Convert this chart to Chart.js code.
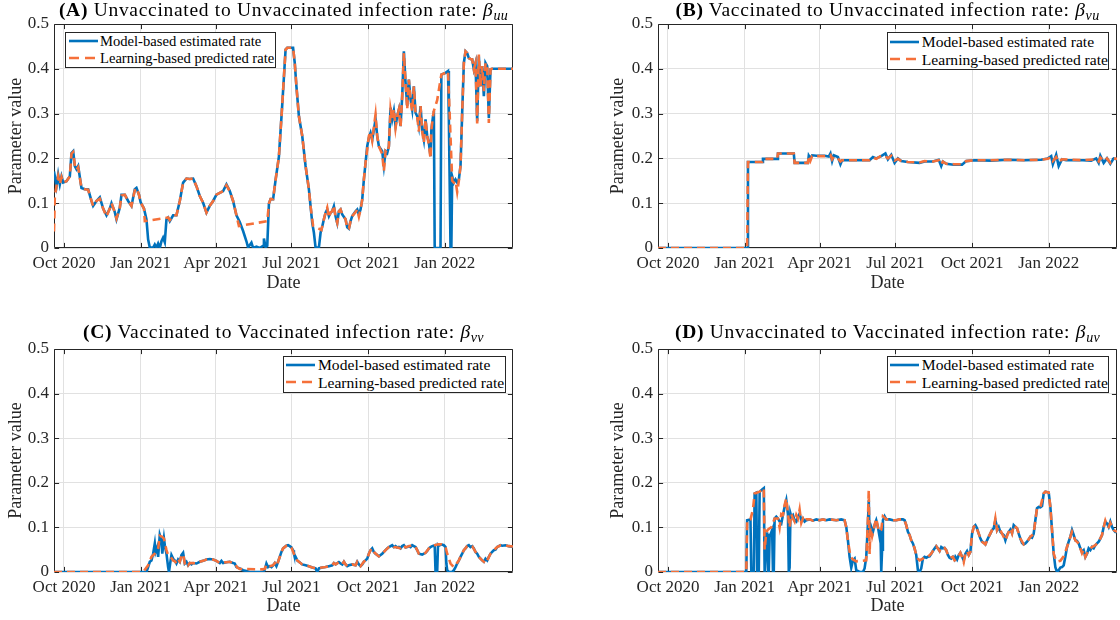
<!DOCTYPE html>
<html><head><meta charset="utf-8">
<script src="https://cdn.jsdelivr.net/npm/chart.js@4.4.1/dist/chart.umd.min.js"></script>
<style>
html,body{margin:0;padding:0;background:#fff;}
#wrap{position:relative;width:1120px;height:620px;overflow:hidden;background:#fff;font-family:"Liberation Serif","Times New Roman",serif;color:#000;}
canvas{position:absolute;}
.ttl{position:absolute;width:459px;text-align:center;font-size:19.5px;letter-spacing:0.7px;line-height:22px;white-space:nowrap;color:#000;}
.ttl sub{font-size:0.72em;vertical-align:-0.3em;line-height:0;letter-spacing:0.3px;}
.lg{position:absolute;background:#fff;border:1px solid #262626;box-sizing:border-box;color:#000;}
.lg .row{position:absolute;left:0;right:0;white-space:nowrap;}
.lg svg{position:absolute;}
.lg span{position:absolute;}
</style></head>
<body><div id="wrap"></div>
<script>
// ---------- data (day index 0 = 19 Sep 2020) ----------
const dayMax = 551;
const tickDays = [12, 104, 194, 285, 377, 469];
const tickLabels = ['Oct 2020','Jan 2021','Apr 2021','Jul 2021','Oct 2021','Jan 2022'];
const seriesLabels = ['Model-based estimated rate','Learning-based predicted rate'];
const panelTitles = [
  ['(A)','Unvaccinated to Unvaccinated infection rate:','uu'],
  ['(B)','Vaccinated to Unvaccinated infection rate:','vu'],
  ['(C)','Vaccinated to Vaccinated infection rate:','vv'],
  ['(D)','Unvaccinated to Vaccinated infection rate:','uv']
];

const modelA = [[0,0.171],[3,0.138],[5,0.164],[7,0.142],[9,0.16],[11,0.146],[15,0.149],[19,0.16],[21,0.212],[23,0.216],[25,0.183],[27,0.176],[29,0.183],[33,0.134],[37,0.131],[41,0.131],[45,0.105],[47,0.094],[51,0.105],[55,0.113],[59,0.088],[63,0.073],[67,0.088],[69,0.1],[73,0.08],[75,0.064],[79,0.09],[81,0.119],[85,0.119],[89,0.105],[93,0.094],[97,0.131],[99,0.134],[102,0.119],[104,0.102],[108,0.088],[111,0.064],[113,0.019],[115,0.001],[119,0.001],[121,0.008],[123,0.001],[125,0.01],[127,0],[129,0.015],[131,0.023],[133,0.013],[135,0.064],[137,0.068],[139,0.06],[143,0.073],[147,0.073],[151,0.105],[155,0.146],[159,0.155],[163,0.154],[167,0.155],[171,0.138],[175,0.116],[179,0.101],[183,0.079],[187,0.094],[191,0.105],[195,0.119],[199,0.123],[203,0.127],[207,0.142],[211,0.127],[215,0.105],[219,0.073],[223,0.058],[227,0.038],[231,0.015],[233,0.001],[237,0.012],[239,0],[243,0.003],[247,0],[251,0.005],[252,0.021],[254,0.002],[256,0.005],[258,0.099],[260,0.109],[263,0.109],[266,0.152],[270,0.204],[274,0.32],[278,0.443],[280,0.447],[287,0.447],[289,0.413],[291,0.361],[294,0.294],[298,0.25],[302,0.183],[306,0.131],[308,0.093],[310,0.056],[312,0.034],[314,0.001],[318,0.001],[320,0.034],[322,0.048],[324,0.064],[326,0.079],[328,0.086],[330,0.071],[332,0.079],[334,0.082],[336,0.093],[338,0.071],[340,0.056],[342,0.082],[344,0.086],[346,0.075],[350,0.064],[352,0.046],[354,0.043],[356,0.06],[358,0.071],[362,0.082],[364,0.086],[366,0.075],[368,0.086],[370,0.108],[372,0.153],[374,0.19],[376,0.227],[378,0.246],[380,0.257],[382,0.242],[384,0.264],[386,0.287],[388,0.25],[390,0.227],[394,0.216],[396,0.183],[398,0.216],[400,0.212],[402,0.227],[404,0.313],[406,0.287],[408,0.306],[410,0.272],[412,0.294],[414,0.309],[416,0.272],[418,0.339],[420,0.439],[422,0.369],[424,0.317],[426,0.376],[428,0.332],[430,0.309],[432,0.361],[434,0.302],[436,0.294],[438,0.272],[440,0.317],[442,0.264],[444,0.242],[446,0.287],[448,0.25],[450,0.235],[452,0.205],[453,0.264],[455,0.294],[456,0.306],[457,0],[464,0],[465,0.387],[470,0.391],[473,0.395],[474,0.287],[476,0],[477,0],[478,0.16],[480,0.146],[482,0.153],[484,0.146],[486,0.153],[488,0.183],[490,0.302],[492,0.413],[494,0.439],[496,0.435],[498,0.424],[500,0.422],[502,0.421],[504,0.399],[506,0.413],[508,0.283],[510,0.428],[512,0.361],[514,0.406],[516,0.339],[518,0.413],[520,0.406],[522,0.29],[524,0.399],[526,0.4],[551,0.4]];
const learnA = [[0,0.037],[1,0.115],[3,0.138],[5,0.16],[7,0.142],[9,0.158],[11,0.146],[15,0.149],[19,0.16],[21,0.21],[23,0.214],[25,0.185],[27,0.174],[29,0.18],[33,0.134],[37,0.131],[41,0.13],[45,0.105],[47,0.094],[51,0.105],[55,0.11],[59,0.088],[63,0.07],[67,0.088],[69,0.1],[73,0.08],[75,0.066],[79,0.09],[81,0.117],[85,0.119],[89,0.105],[93,0.094],[97,0.129],[99,0.134],[102,0.119],[104,0.102],[108,0.088],[109,0.06],[137,0.068],[139,0.062],[143,0.073],[147,0.073],[151,0.105],[155,0.146],[159,0.155],[163,0.154],[167,0.155],[171,0.138],[175,0.116],[179,0.101],[183,0.079],[187,0.094],[191,0.105],[195,0.119],[199,0.123],[203,0.127],[207,0.14],[211,0.127],[215,0.105],[219,0.073],[222,0.049],[256,0.06],[258,0.099],[260,0.109],[263,0.109],[266,0.152],[270,0.204],[274,0.32],[278,0.443],[280,0.447],[287,0.447],[289,0.413],[291,0.361],[294,0.294],[298,0.25],[302,0.183],[306,0.131],[308,0.093],[311,0.05],[321,0.04],[322,0.048],[324,0.064],[326,0.079],[328,0.09],[330,0.068],[332,0.079],[334,0.082],[336,0.095],[338,0.068],[340,0.056],[342,0.082],[344,0.086],[346,0.075],[350,0.064],[352,0.044],[354,0.043],[356,0.06],[358,0.071],[362,0.08],[364,0.086],[366,0.07],[368,0.086],[370,0.108],[372,0.153],[374,0.19],[376,0.22],[378,0.25],[380,0.26],[382,0.24],[384,0.27],[386,0.298],[388,0.25],[390,0.227],[394,0.21],[396,0.172],[398,0.216],[400,0.212],[402,0.227],[404,0.31],[406,0.287],[408,0.31],[410,0.268],[412,0.294],[414,0.309],[416,0.27],[418,0.339],[420,0.435],[422,0.369],[424,0.31],[426,0.376],[428,0.33],[430,0.305],[432,0.361],[434,0.3],[436,0.294],[438,0.26],[440,0.317],[442,0.26],[444,0.235],[446,0.287],[448,0.25],[450,0.23],[452,0.2],[453,0.264],[455,0.294],[456,0.306],[460,0.33],[465,0.387],[470,0.391],[473,0.395],[478,0.15],[480,0.146],[482,0.15],[484,0.125],[486,0.15],[488,0.183],[490,0.302],[492,0.413],[494,0.439],[496,0.435],[498,0.424],[500,0.422],[502,0.421],[504,0.399],[506,0.413],[508,0.278],[510,0.432],[512,0.361],[514,0.406],[516,0.35],[518,0.413],[520,0.406],[522,0.279],[524,0.399],[526,0.4],[551,0.4]];

const modelB = [[0,0],[107,0],[108,0.192],[125,0.192],[126,0.199],[143,0.199],[144,0.211],[163,0.211],[164,0.19],[180,0.19],[181,0.206],[183,0.2],[185,0.207],[190,0.206],[200,0.206],[205,0.204],[207,0.211],[209,0.194],[211,0.207],[216,0.203],[219,0.187],[221,0.196],[240,0.196],[254,0.196],[258,0.203],[262,0.2],[268,0.205],[273,0.211],[276,0.198],[280,0.208],[284,0.19],[288,0.2],[292,0.194],[300,0.192],[314,0.19],[320,0.193],[330,0.193],[337,0.197],[340,0.183],[342,0.193],[346,0.188],[355,0.186],[365,0.186],[370,0.194],[380,0.196],[400,0.195],[420,0.197],[440,0.196],[460,0.197],[468,0.2],[472,0.205],[474,0.187],[478,0.208],[481,0.183],[485,0.198],[490,0.196],[510,0.196],[520,0.195],[526,0.2],[529,0.19],[531,0.206],[535,0.19],[539,0.2],[543,0.188],[547,0.2],[551,0.198]];
const learnB = [[0,0],[107,0],[108,0.192],[125,0.192],[126,0.199],[143,0.199],[144,0.211],[163,0.211],[164,0.19],[180,0.19],[181,0.206],[183,0.195],[185,0.205],[200,0.205],[207,0.208],[209,0.198],[211,0.204],[216,0.2],[219,0.193],[221,0.196],[254,0.196],[258,0.202],[262,0.199],[268,0.206],[273,0.205],[276,0.2],[280,0.206],[284,0.195],[288,0.199],[292,0.194],[300,0.192],[314,0.191],[320,0.194],[330,0.193],[337,0.196],[340,0.186],[342,0.193],[346,0.188],[355,0.187],[365,0.187],[370,0.194],[380,0.196],[400,0.196],[420,0.197],[440,0.196],[460,0.197],[468,0.199],[472,0.203],[474,0.194],[478,0.203],[481,0.192],[485,0.198],[510,0.196],[526,0.198],[529,0.193],[531,0.202],[535,0.194],[539,0.2],[543,0.19],[547,0.2],[551,0.199]];

const modelC = [[0,0],[111,0],[113,0.011],[115,0.023],[117,0.026],[119,0.041],[121,0.064],[122,0.045],[124,0.056],[125,0.034],[127,0.083],[129,0.071],[130,0.041],[132,0.075],[133,0.06],[135,0.041],[137,0.011],[138,0],[140,0.026],[141,0.038],[143,0.03],[145,0.026],[147,0.019],[149,0.028],[151,0.023],[153,0.038],[155,0.043],[157,0.019],[159,0.023],[161,0.015],[163,0.02],[165,0.017],[167,0.02],[171,0.019],[175,0.023],[179,0.025],[183,0.028],[187,0.029],[191,0.028],[195,0.025],[199,0.02],[201,0.025],[203,0.02],[207,0.022],[211,0.023],[215,0.02],[217,0.019],[219,0.011],[223,0.008],[227,0.004],[231,0.002],[235,0],[251,0],[253,0.005],[255,0.019],[257,0.011],[259,0.013],[261,0.011],[263,0.015],[265,0.02],[267,0.013],[269,0.023],[271,0.034],[273,0.045],[275,0.053],[279,0.059],[281,0.06],[283,0.058],[285,0.055],[287,0.049],[288,0.041],[290,0.034],[292,0.026],[294,0.023],[298,0.017],[302,0.015],[306,0.013],[310,0.01],[314,0.008],[316,0],[318,0.008],[322,0.01],[326,0.011],[330,0.013],[334,0.015],[336,0.02],[338,0.017],[342,0.022],[344,0.019],[346,0.017],[348,0.023],[350,0.017],[352,0.013],[354,0.015],[358,0.017],[362,0.015],[364,0.023],[366,0.017],[368,0.013],[370,0.017],[372,0.023],[374,0.026],[376,0.03],[378,0.041],[380,0.049],[382,0.053],[384,0.045],[386,0.041],[388,0.038],[390,0.035],[392,0.038],[394,0.041],[396,0.045],[398,0.049],[400,0.053],[402,0.056],[406,0.06],[408,0.056],[410,0.058],[412,0.055],[414,0.056],[416,0.053],[418,0.058],[420,0.06],[422,0.055],[424,0.056],[426,0.058],[428,0.056],[430,0.06],[432,0.058],[434,0.056],[436,0.049],[438,0.041],[442,0.039],[446,0.043],[448,0.047],[450,0.053],[452,0.056],[454,0.058],[457,0.06],[458,0],[460,0],[461,0.062],[463,0.06],[465,0.062],[468,0.06],[470,0.056],[471,0.019],[472,0.004],[474,0],[478,0],[480,0.004],[482,0.011],[484,0.019],[486,0.026],[488,0.034],[490,0.041],[492,0.049],[494,0.053],[496,0.058],[498,0.06],[500,0.056],[502,0.058],[504,0.053],[506,0.045],[508,0.041],[510,0.034],[512,0.03],[514,0.026],[516,0.023],[518,0.03],[520,0.026],[522,0.034],[524,0.041],[526,0.045],[528,0.049],[530,0.05],[532,0.056],[534,0.058],[536,0.06],[538,0.059],[542,0.06],[546,0.058],[551,0.056]];
const learnC = [[0,0],[107,0],[113,0.015],[117,0.034],[121,0.041],[125,0.052],[127,0.081],[130,0.079],[132,0.075],[135,0.049],[137,0.038],[140,0.034],[143,0.026],[145,0.024],[147,0.019],[149,0.028],[151,0.023],[153,0.035],[155,0.04],[157,0.02],[159,0.023],[161,0.015],[163,0.02],[167,0.02],[171,0.019],[175,0.023],[179,0.025],[183,0.028],[187,0.029],[191,0.028],[195,0.025],[199,0.02],[203,0.021],[207,0.022],[211,0.023],[215,0.02],[217,0.019],[220,0.01],[223,0.007],[250,0.006],[253,0.007],[255,0.017],[259,0.013],[263,0.015],[265,0.02],[267,0.013],[269,0.023],[271,0.034],[273,0.045],[275,0.053],[279,0.059],[281,0.06],[283,0.058],[285,0.055],[288,0.041],[292,0.026],[298,0.017],[302,0.015],[306,0.013],[310,0.01],[314,0.009],[318,0.009],[322,0.01],[326,0.011],[330,0.013],[334,0.015],[336,0.02],[338,0.017],[342,0.022],[346,0.017],[348,0.023],[350,0.017],[352,0.013],[358,0.017],[362,0.015],[364,0.023],[368,0.013],[372,0.023],[376,0.03],[378,0.041],[380,0.049],[382,0.053],[384,0.045],[388,0.038],[390,0.035],[394,0.041],[398,0.049],[402,0.056],[406,0.06],[408,0.056],[412,0.055],[416,0.053],[418,0.058],[420,0.06],[422,0.055],[426,0.058],[430,0.06],[434,0.056],[436,0.049],[438,0.041],[442,0.039],[446,0.043],[450,0.053],[454,0.058],[457,0.06],[461,0.062],[465,0.062],[468,0.06],[470,0.056],[472,0.041],[476,0.019],[480,0.011],[482,0.015],[486,0.026],[488,0.034],[492,0.049],[496,0.058],[498,0.06],[502,0.058],[506,0.045],[510,0.034],[514,0.026],[516,0.023],[518,0.03],[520,0.026],[524,0.041],[528,0.049],[532,0.056],[536,0.06],[542,0.06],[546,0.058],[551,0.057]];

const modelD = [[0,0],[106,0],[107,0.116],[111,0.118],[112,0],[115,0],[116,0.176],[118,0.178],[119,0],[121,0],[122,0.18],[125,0.185],[127,0.188],[128,0],[130,0.086],[131,0.086],[132,0],[133,0],[134,0.079],[137,0.094],[138,0],[139,0],[140,0.12],[142,0.124],[144,0.12],[146,0.113],[148,0.109],[150,0.128],[152,0.146],[154,0.161],[156,0.13],[157,0],[158,0.01],[159,0.131],[160,0.124],[162,0.128],[164,0.116],[166,0.113],[168,0.124],[170,0.131],[172,0.116],[174,0.12],[176,0.113],[178,0.116],[182,0.118],[186,0.115],[190,0.118],[194,0.116],[198,0.118],[202,0.116],[206,0.118],[214,0.116],[220,0.118],[224,0.116],[226,0.101],[228,0.071],[230,0.034],[232,0.01],[234,0.026],[236,0.03],[238,0.004],[242,0],[246,0],[248,0.008],[250,0.034],[252,0.109],[253,0.161],[254,0.079],[256,0.101],[258,0.09],[260,0.105],[262,0.116],[264,0.101],[266,0.079],[267,0.094],[268,0],[269,0.05],[270,0.116],[272,0.125],[274,0.118],[278,0.118],[282,0.116],[286,0.116],[290,0.118],[294,0.118],[296,0.116],[298,0.105],[300,0.09],[302,0.083],[304,0.071],[306,0.064],[308,0.053],[310,0.038],[312,0.004],[314,0],[316,0.008],[318,0.03],[320,0.034],[322,0.032],[324,0.034],[326,0.035],[328,0.041],[330,0.047],[332,0.053],[334,0.058],[336,0.053],[338,0.047],[340,0.056],[342,0.053],[344,0.054],[346,0.049],[348,0.038],[350,0.032],[352,0.03],[354,0.034],[356,0.028],[357,0.034],[359,0.028],[361,0.038],[363,0.043],[365,0.034],[367,0.026],[369,0.041],[371,0.047],[373,0.038],[375,0.045],[377,0.086],[379,0.101],[381,0.105],[383,0.098],[385,0.086],[387,0.075],[389,0.068],[391,0.066],[393,0.062],[395,0.071],[397,0.079],[399,0.086],[401,0.094],[403,0.098],[405,0.116],[406,0.109],[407,0.094],[409,0.101],[411,0.09],[413,0.086],[415,0.083],[417,0.071],[419,0.083],[421,0.09],[423,0.095],[425,0.087],[427,0.105],[429,0.101],[431,0.098],[433,0.086],[435,0.075],[437,0.065],[439,0.062],[441,0.064],[443,0.068],[445,0.073],[447,0.079],[449,0.077],[451,0.086],[453,0.116],[455,0.143],[457,0.146],[459,0.145],[461,0.148],[463,0.176],[465,0.18],[469,0.178],[471,0.146],[473,0.094],[475,0.041],[477,0.011],[479,0],[481,0.004],[483,0.01],[485,0.011],[487,0.015],[489,0.034],[491,0.056],[493,0.068],[495,0.079],[497,0.094],[499,0.083],[501,0.071],[503,0.07],[505,0.064],[507,0.053],[509,0.045],[511,0.049],[513,0.034],[515,0.041],[517,0.053],[519,0.049],[521,0.056],[523,0.053],[525,0.06],[527,0.064],[529,0.068],[531,0.075],[533,0.083],[535,0.101],[537,0.113],[539,0.109],[541,0.101],[543,0.113],[545,0.101],[547,0.094],[549,0.09],[551,0.09]];
const learnD = [[0,0],[106,0],[107,0.116],[111,0.118],[114,0.14],[116,0.176],[122,0.18],[127,0.188],[128,0.05],[130,0.09],[132,0.095],[134,0.098],[136,0.1],[140,0.12],[144,0.12],[146,0.1],[148,0.13],[150,0.128],[152,0.15],[154,0.165],[156,0.13],[158,0.1],[160,0.13],[162,0.12],[164,0.113],[166,0.128],[168,0.12],[170,0.14],[172,0.11],[174,0.12],[176,0.113],[178,0.118],[182,0.118],[186,0.115],[190,0.118],[194,0.116],[198,0.118],[202,0.116],[206,0.118],[214,0.116],[220,0.118],[224,0.116],[226,0.1],[228,0.07],[231,0.035],[234,0.028],[238,0.024],[250,0.026],[252,0.12],[253,0.184],[254,0.04],[255,0.1],[257,0.08],[260,0.105],[262,0.12],[264,0.1],[266,0.09],[268,0.095],[270,0.125],[272,0.122],[274,0.118],[278,0.118],[282,0.116],[286,0.116],[290,0.118],[294,0.118],[296,0.116],[298,0.105],[300,0.09],[302,0.083],[304,0.071],[306,0.064],[308,0.053],[310,0.038],[312,0.03],[314,0.026],[316,0.028],[318,0.03],[320,0.034],[324,0.034],[328,0.041],[332,0.053],[334,0.058],[336,0.053],[338,0.047],[340,0.056],[344,0.054],[346,0.049],[348,0.038],[350,0.032],[354,0.034],[356,0.026],[359,0.03],[361,0.036],[363,0.043],[365,0.034],[367,0.022],[369,0.041],[371,0.047],[373,0.038],[375,0.045],[377,0.086],[379,0.101],[381,0.105],[385,0.086],[389,0.068],[393,0.062],[397,0.079],[401,0.094],[403,0.098],[405,0.12],[407,0.094],[409,0.101],[413,0.086],[417,0.071],[421,0.09],[423,0.098],[425,0.087],[427,0.105],[431,0.098],[435,0.075],[439,0.062],[443,0.068],[447,0.079],[451,0.086],[453,0.116],[455,0.143],[459,0.145],[463,0.176],[465,0.18],[469,0.178],[471,0.146],[473,0.094],[475,0.041],[477,0.03],[479,0.023],[483,0.025],[487,0.035],[489,0.045],[491,0.056],[495,0.079],[497,0.09],[501,0.071],[505,0.064],[507,0.053],[509,0.042],[511,0.049],[513,0.034],[517,0.05],[521,0.056],[525,0.06],[529,0.068],[533,0.083],[535,0.1],[537,0.115],[539,0.105],[541,0.101],[543,0.11],[547,0.094],[551,0.09]];

// ---------- styling / layout ----------
const BLUE = '#0072BD', ORANGE = '#F5703A', AXIS = '#262626', GRID = '#e1e1e1';
const FONT = '"Liberation Serif","Times New Roman",serif';

const panels = [
  {model: modelA, learn: learnA, x: 0,   y: 0,   pad: {left: 0,  right: 47, top: 24, bottom: 0}, xh: 62, dateBottom: 16, yTitlePad: 5.2,
   legend: {left: 65.4, top: 32.3, w: 210.6, h: 36, fs: 14.6, rows: [41.3, 58.3], sx: 2.6, tx: 33.6}, title: {top: -1.5}},
  {model: modelB, learn: learnB, x: 560, y: 0,   pad: {left: 44, right: 3,  top: 24, bottom: 0}, xh: 62, dateBottom: 16, yTitlePad: 3.7,
   legend: {left: 886.8, top: 32.3, w: 222.5, h: 37.7, fs: 15.6, rows: [41.7, 59.3], sx: 1.8, tx: 34}, title: {top: -1.5}},
  {model: modelC, learn: learnC, x: 0,   y: 310, pad: {left: 0,  right: 47, top: 39, bottom: 0}, xh: 48, dateBottom: 3, yTitlePad: 5.2,
   legend: {left: 283, top: 356, w: 222.7, h: 36.7, fs: 15.6, rows: [365, 382.3], sx: 1.8, tx: 34}, title: {top: 321}},
  {model: modelD, learn: learnD, x: 560, y: 310, pad: {left: 44, right: 3,  top: 39, bottom: 0}, xh: 48, dateBottom: 3, yTitlePad: 3.7,
   legend: {left: 886.8, top: 356, w: 222.5, h: 36.7, fs: 15.6, rows: [365, 382.3], sx: 1.8, tx: 34}, title: {top: 321}}
];

const boxPlugin = {
  id: 'matlabBox',
  beforeDatasetsDraw(chart) {
    const {ctx, chartArea: a, scales: {x, y}} = chart;
    const L = Math.round(a.left) + 0.5, R = Math.round(a.right) - 0.5;
    const T = Math.round(a.top) + 0.5, B = Math.round(a.bottom) - 0.5;
    ctx.save();
    ctx.strokeStyle = AXIS; ctx.lineWidth = 1;
    ctx.beginPath();
    ctx.rect(L, T, R - L, B - T);
    const tl = 4.6;
    x.ticks.forEach(t => {
      const p = Math.round(x.getPixelForValue(t.value)) + 0.5;
      ctx.moveTo(p, B); ctx.lineTo(p, B - tl);
      ctx.moveTo(p, T); ctx.lineTo(p, T + tl);
    });
    y.ticks.forEach(t => {
      const p = Math.round(y.getPixelForValue(t.value)) + 0.5;
      ctx.moveTo(L, p); ctx.lineTo(L + tl, p);
      ctx.moveTo(R, p); ctx.lineTo(R - tl, p);
    });
    ctx.stroke();
    ctx.restore();
  }
};

const wrap = document.getElementById('wrap');
const toPts = arr => arr.map(([d, v]) => ({x: d, y: v}));

panels.forEach((p, i) => {
  const cv = document.createElement('canvas');
  cv.width = 560; cv.height = 310;
  cv.style.left = p.x + 'px'; cv.style.top = p.y + 'px';
  cv.style.width = '560px'; cv.style.height = '310px';
  wrap.appendChild(cv);

  const chart = new Chart(cv.getContext('2d'), {
    type: 'line',
    data: {
      datasets: [
        {label: seriesLabels[0], data: toPts(p.model), borderColor: BLUE, borderWidth: 2.6,
         pointRadius: 0, tension: 0, fill: false, order: 1},
        {label: seriesLabels[1], data: toPts(p.learn), borderColor: ORANGE, borderWidth: 2.6,
         borderDash: [8, 5], pointRadius: 0, tension: 0, fill: false, order: 0}
      ]
    },
    options: {
      responsive: false, animation: false, devicePixelRatio: 1,
      parsing: false, normalized: true,
      layout: {padding: p.pad},
      plugins: {legend: {display: false}, tooltip: {enabled: false}, title: {display: false}},
      scales: {
        x: {
          type: 'linear', min: 0, max: dayMax,
          afterBuildTicks: s => { s.ticks = tickDays.map(v => ({value: v})); },
          afterFit: s => { s.height = p.xh; },
          ticks: {autoSkip: false, maxRotation: 0, padding: 5, color: AXIS,
                  font: {family: FONT, size: 17},
                  callback: v => tickLabels[tickDays.indexOf(v)] || ''},
          grid: {color: GRID, lineWidth: 1, drawTicks: false},
          border: {display: false},
          title: {display: true, text: 'Date', color: AXIS, font: {family: FONT, size: 18},
                  padding: {top: 0, bottom: p.dateBottom}}
        },
        y: {
          type: 'linear', min: 0, max: 0.5,
          afterFit: s => { s.width = 54; },
          ticks: {stepSize: 0.1, padding: 5, color: AXIS, font: {family: FONT, size: 17},
                  callback: v => String(+v.toFixed(1))},
          grid: {color: GRID, lineWidth: 1, drawTicks: false},
          border: {display: false},
          title: {display: true, text: 'Parameter value', color: AXIS, font: {family: FONT, size: 18},
                  padding: {top: p.yTitlePad, bottom: 0}}
        }
      }
    },
    plugins: [boxPlugin]
  });

  // title (HTML text)
  const t = panelTitles[i];
  const td = document.createElement('div');
  td.className = 'ttl';
  td.style.left = (p.x + chart.chartArea.left) + 'px';
  td.style.width = (chart.chartArea.right - chart.chartArea.left) + 'px';
  td.style.top = p.title.top + 'px';
  td.innerHTML = '<b>' + t[0] + '</b> ' + t[1] + ' <i>\u03B2</i><sub><i>' + t[2] + '</i></sub>';
  wrap.appendChild(td);

  // legend (HTML text, built from the chart's datasets)
  const lg = p.legend;
  const ld = document.createElement('div');
  ld.className = 'lg';
  Object.assign(ld.style, {left: lg.left + 'px', top: lg.top + 'px', width: lg.w + 'px', height: lg.h + 'px', fontSize: lg.fs + 'px'});
  chart.data.datasets.forEach((ds, k) => {
    const cy = lg.rows[k] - lg.top;
    const dash = ds.borderDash ? ' stroke-dasharray="10,6"' : '';
    const row = document.createElement('div');
    row.className = 'row';
    row.innerHTML = '<svg width="29" height="6" style="left:' + lg.sx + 'px;top:' + (cy - 4) + 'px">' +
      '<line x1="0" y1="3" x2="29" y2="3" stroke="' + ds.borderColor + '" stroke-width="2.6"' + dash + '/></svg>' +
      '<span style="left:' + lg.tx + 'px;top:' + (cy - lg.fs * 0.62) + 'px;line-height:' + (lg.fs * 1.2) + 'px">' + ds.label + '</span>';
    ld.appendChild(row);
  });
  wrap.appendChild(ld);
});
</script></body></html>
